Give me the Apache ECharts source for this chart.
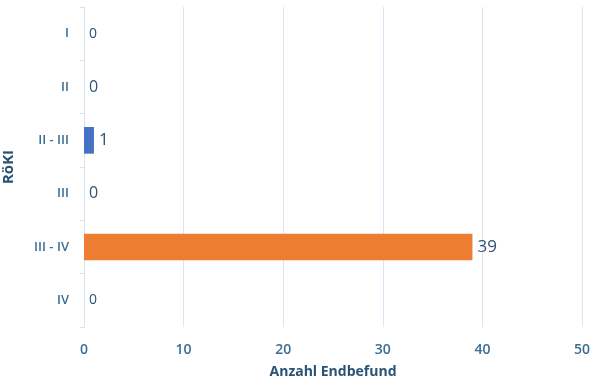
<!DOCTYPE html>
<html>
<head>
<meta charset="utf-8">
<script src="https://cdn.jsdelivr.net/npm/echarts@6/dist/echarts.min.js"></script>
<style>
  html, body { margin: 0; padding: 0; background: #ffffff; }
  #chart { width: 591px; height: 378px; }
</style>
</head>
<body>
<div id="chart"></div>
<script>
// Categories from top to bottom
const categories = ['I', 'II', 'II - III', 'III', 'III - IV', 'IV'];
// Number of final findings per category
const counts = [0, 0, 1, 0, 39, 0];
// Bar colours per category
const barColors = ['#4472C4', '#4472C4', '#4472C4', '#4472C4', '#ED7D31', '#4472C4'];
// Value label sizes per category
const labelSizes = [14, 16, 17, 16, 17, 14];
const xTicks = [0, 10, 20, 30, 40, 50];

const chart = echarts.init(document.getElementById('chart'));
chart.setOption({
  animation: false,
  grid: { left: 84, right: 9, top: 7, bottom: 51, containLabel: false, outerBoundsMode: 'none' },
  xAxis: {
    type: 'value',
    min: xTicks[0],
    max: xTicks[xTicks.length - 1],
    interval: 10,
    name: 'Anzahl Endbefund',
    nameLocation: 'middle',
    nameGap: 38,
    nameTextStyle: { fontFamily: 'Open Sans', fontWeight: 'bold', fontSize: 14, color: '#2a5273' },
    axisLine: { show: false },
    axisTick: { show: false },
    axisLabel: { fontFamily: 'Open Sans', fontSize: 14, fontWeight: 600, color: '#3a6e96', margin: 16 },
    splitLine: { show: true, lineStyle: { color: '#d8e7f4', width: 1 } }
  },
  yAxis: {
    type: 'category',
    data: categories,
    inverse: true,
    name: 'RöKI',
    nameLocation: 'middle',
    nameGap: 68,
    nameRotate: 90,
    nameTextStyle: { fontFamily: 'Open Sans', fontWeight: 'bold', fontSize: 15, color: '#2a5273' },
    axisLine: { show: true, lineStyle: { color: '#d3e4f3' } },
    axisTick: { show: true, length: 4, lineStyle: { color: '#d3e4f3' } },
    axisLabel: { fontFamily: 'Open Sans', fontSize: 13, fontWeight: 600, color: '#3a6e96', margin: 15 }
  },
  series: [{
    type: 'bar',
    barWidth: '50%',
    data: counts.map((v, i) => ({
      value: v,
      itemStyle: { color: barColors[i] },
      label: { fontSize: labelSizes[i] }
    })),
    label: {
      show: true,
      position: 'right',
      distance: 5,
      fontFamily: 'Open Sans',
      color: '#2f5274'
    }
  }]
});
</script>
</body>
</html>
